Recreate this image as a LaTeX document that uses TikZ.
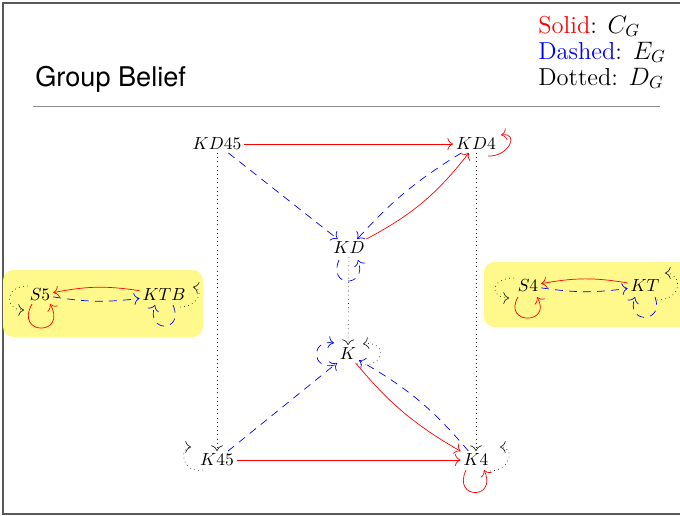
\documentclass[tikz,border=0pt]{standalone}
\usepackage{fontspec}
\newfontfamily\titlefont{TeX Gyre Heros}
\usetikzlibrary{arrows.meta}
\begin{document}
\begin{tikzpicture}[x=0.5714pt,y=-0.5714pt,
  >={To[scale=1.3]},
  st/.style={inner sep=1.5pt},
  cg/.style={red,->},
  eg/.style={blue,dash pattern=on 4.5pt off 3.5pt,->},
  dg/.style={black!85,dotted,->},
  hl/.style={fill=yellow!45,rounded corners=6pt},
  lg/.style={anchor=base west,inner sep=0pt,font=\fontsize{14}{16}\selectfont}]
\useasboundingbox (0,0) rectangle (680,516);
\clip (0,0) rectangle (680,516);
\draw[black!65,line width=0.6pt] (3,3) rectangle (720,514);
\node[anchor=base west,inner sep=0pt,font=\titlefont\fontsize{15.5}{18}\selectfont] (title) at (35,86) {Group Belief};
\draw[black!45,line width=0.5pt] (33,106) -- (660,106);
\node[lg] (l1) at (538,33) {\textcolor{red}{Solid}: $C_G$};
\node[lg] (l2) at (538,59) {\textcolor{blue}{Dashed}: $E_G$};
\node[lg] (l3) at (538,85) {Dotted: $D_G$};
\fill[hl] (3,270) rectangle (203,337);
\fill[hl] (484,262) rectangle (720,327);
\node[st] (KD45) at (217,144) {$KD45$};
\node[st] (KD4) at (476,144) {$KD4$};
\node[st] (KD) at (349,248) {$KD$};
\node[st] (K) at (348,354) {$K$};
\node[st] (K45) at (217,460) {$K45$};
\node[st] (K4) at (476,460) {$K4$};
\node[st] (S5) at (40,295) {$S5$};
\node[st] (KTB) at (164,295) {$KTB$};
\node[st] (S4) at (528,286) {$S4$};
\node[st] (KT) at (645,286) {$KT$};
% solid C_G
\draw[cg] (KD45) -- (KD4);
\draw[cg] (KD) to[bend right=12] (KD4);
\draw[cg] ([shift={(12,12)}]KD4.center) .. controls +(21,1) and +(19,-3) .. ([shift={(25,-9)}]KD4.center);
\draw[cg] (K) to[bend right=10] (K4);
\draw[cg] (K45) -- (K4);
\draw[cg] ([shift={(-10,10)}]K4.center) .. controls +(-14,30) and +(14,30) .. ([shift={(8,10)}]K4.center);
\draw[cg] (KTB) to[bend right=10] (S5);
\draw[cg] ([shift={(-8,9)}]S5.center) .. controls +(-18,32) and +(18,32) .. ([shift={(10,9)}]S5.center);
\draw[cg] (KT) to[bend right=10] (S4);
\draw[cg] ([shift={(-10,11)}]S4.center) .. controls +(-16,28) and +(16,28) .. ([shift={(9,11)}]S4.center);
% dashed E_G
\draw[eg] (KD45) -- (KD);
\draw[eg] (KD4) to[bend right=8] (KD);
\draw[eg] ([shift={(-10,12)}]KD.center) .. controls +(-12,28) and +(10,28) .. ([shift={(9,12)}]KD.center);
\draw[eg] (K45) -- (K);
\draw[eg] (K4) to[bend right=10] (K);
\draw[eg] ([shift={(-13,11)}]K.center) .. controls +(-24,6) and +(-24,-4) .. ([shift={(-14,-11)}]K.center);
\draw[eg] (S5) to[bend right=8] (KTB);
\draw[eg] ([shift={(9,10)}]KTB.center) .. controls +(12,28) and +(-10,28) .. ([shift={(-9,10)}]KTB.center);
\draw[eg] (S4) to[bend right=8] (KT);
\draw[eg] ([shift={(10,11)}]KT.center) .. controls +(10,27) and +(-10,27) .. ([shift={(-10,11)}]KT.center);
% dotted D_G
\draw[dg] (KD45) -- (K45);
\draw[dg] (KD4) -- (K4);
\draw[dg] (KD) -- (K);
\draw[dg] ([shift={(9,10)}]K.center) .. controls +(28,6) and +(26,-4) .. ([shift={(15,-10)}]K.center);
\draw[dg] ([shift={(-14,10)}]K45.center) .. controls +(-22,4) and +(-12,0) .. ([shift={(-26,-13)}]K45.center);
\draw[dg] ([shift={(14,11)}]K4.center) .. controls +(20,0) and +(16,0) .. ([shift={(24,-13)}]K4.center);
\draw[dg] ([shift={(-12,-9)}]S5.center) .. controls +(-24,0) and +(-20,0) .. ([shift={(-16,15)}]S5.center);
\draw[dg] ([shift={(16,12)}]KTB.center) .. controls +(18,0) and +(12,2) .. ([shift={(29,-8)}]KTB.center);
\draw[dg] ([shift={(-14,-8)}]S4.center) .. controls +(-24,0) and +(-20,0) .. ([shift={(-19,12)}]S4.center);
\draw[dg] ([shift={(12,14)}]KT.center) .. controls +(26,0) and +(18,0) .. ([shift={(20,-13)}]KT.center);
\end{tikzpicture}
\end{document}
